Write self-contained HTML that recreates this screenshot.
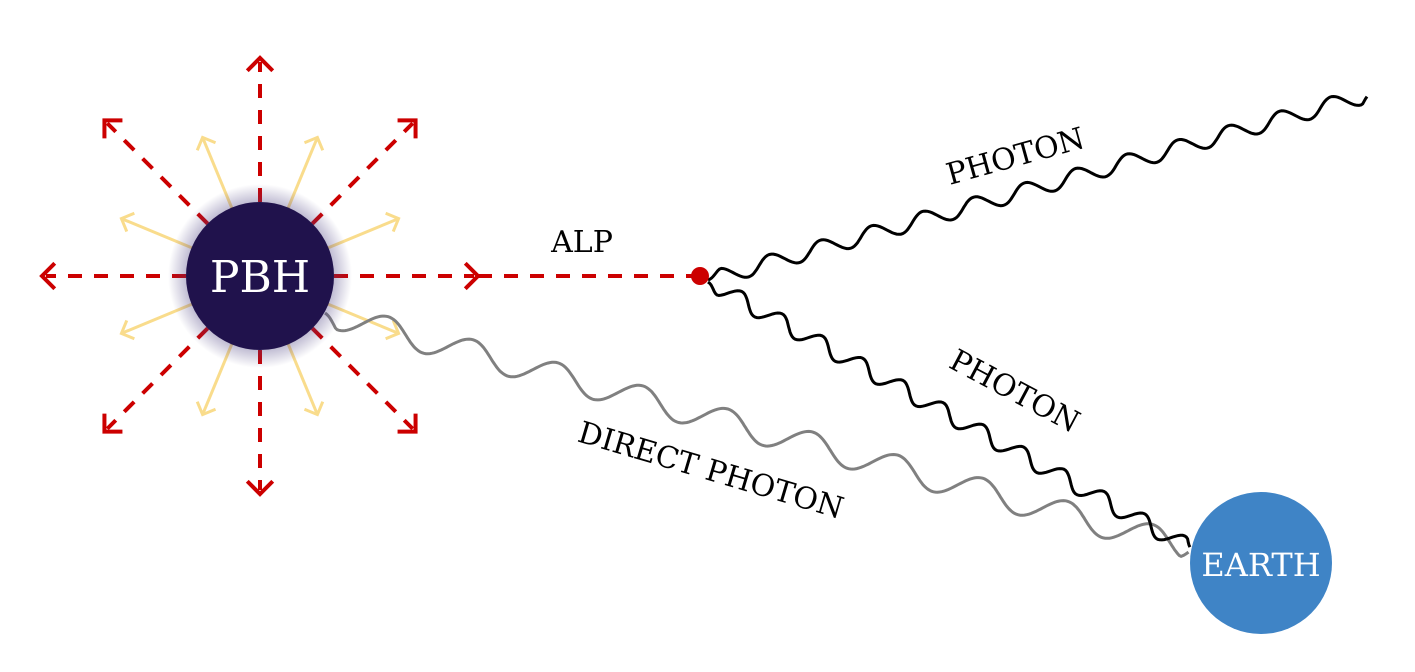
<!DOCTYPE html>
<html><head><meta charset="utf-8"><style>
html,body{margin:0;padding:0;background:#fff;}
svg{display:block;}
text{font-family:"DejaVu Serif","Liberation Serif",serif;}
</style></head><body>
<svg id="s" width="1415" height="672" viewBox="0 0 1415 672">
<defs>
<radialGradient id="glow" cx="50%" cy="50%" r="50%">
<stop offset="0.6" stop-color="#4a3f80" stop-opacity="0.7"/>
<stop offset="1" stop-color="#4a3f80" stop-opacity="0"/>
</radialGradient>
<filter id="yb" x="-50%" y="-50%" width="200%" height="200%"><feGaussianBlur stdDeviation="3"/></filter>
</defs>
<g id="yellow"></g>
<g id="red"></g>
<path id="direct" fill="none" stroke="#808080" stroke-width="3"/>
<circle cx="260" cy="276" r="92" fill="url(#glow)"/>
<circle cx="260" cy="276" r="74" fill="#20124c"/>
<text x="260" y="292" text-anchor="middle" font-size="44" fill="#fff">PBH</text>
<path id="ph1" fill="none" stroke="#000" stroke-width="3"/>
<path id="ph2" fill="none" stroke="#000" stroke-width="3"/>
<circle cx="700" cy="276" r="9" fill="#cc0000"/>
<text x="582" y="252" text-anchor="middle" font-size="30" fill="#000">ALP</text>
<text transform="translate(1018,166) rotate(-15.5)" text-anchor="middle" font-size="30">PHOTON</text>
<text transform="translate(1010,400) rotate(28)" text-anchor="middle" font-size="30">PHOTON</text>
<text transform="translate(708,480) rotate(16.5)" text-anchor="middle" font-size="30">DIRECT PHOTON</text>
<circle cx="1261" cy="563" r="71" fill="#3f84c6"/>
<text x="1261" y="576" text-anchor="middle" font-size="32" fill="#fff">EARTH</text>
</svg>
<script>
const NS="http://www.w3.org/2000/svg";
const cx=260,cy=276;
const red=document.getElementById('red'),yel=document.getElementById('yellow');
function line(g,x1,y1,x2,y2,st){const l=document.createElementNS(NS,'line');l.setAttribute('x1',x1);l.setAttribute('y1',y1);l.setAttribute('x2',x2);l.setAttribute('y2',y2);for(const k in st)l.setAttribute(k,st[k]);g.appendChild(l);return l;}
function head(g,tx,ty,a,len,st){const p=document.createElementNS(NS,'polyline');const b1=a+Math.PI*0.75,b2=a-Math.PI*0.75;p.setAttribute('points',`${tx+len*Math.cos(b1)},${ty+len*Math.sin(b1)} ${tx},${ty} ${tx+len*Math.cos(b2)},${ty+len*Math.sin(b2)}`);p.setAttribute('fill','none');for(const k in st)p.setAttribute(k,st[k]);g.appendChild(p);return p;}
for(let i=0;i<8;i++){
  const a=(i*45+22.5)*Math.PI/180;
  const st={stroke:'#f9dc8c','stroke-width':3};
  const l=line(yel,cx+70*Math.cos(a),cy+70*Math.sin(a),cx+150*Math.cos(a),cy+150*Math.sin(a),st);
  
  
  head(yel,cx+150*Math.cos(a),cy+150*Math.sin(a),a,14,st);
}
for(let i=0;i<8;i++){
  const a=i*45*Math.PI/180;
  const st={stroke:'#cc0000','stroke-width':4};
  const L=(i%2==0)?218:220;
  const l=line(red,cx,cy,cx+(L-4)*Math.cos(a),cy+(L-4)*Math.sin(a),Object.assign({'stroke-dasharray':'14 12','stroke-dashoffset':'-74'},st));
  
  
  head(red,cx+L*Math.cos(a),cy+L*Math.sin(a),a,16,Object.assign({'stroke-linecap':'square'},st));
}
const ext=line(red,478,276,700,276,{stroke:'#cc0000','stroke-width':4,'stroke-dasharray':'14 12'});


function wave(id,x1,y1,x2,y2,wl,amp,ph){
  const dx=x2-x1,dy=y2-y1,L=Math.hypot(dx,dy),ux=dx/L,uy=dy/L,nx=-uy,ny=ux;
  let d='';
  for(let s=0;s<=L;s+=2){const o=amp*Math.sin(2*Math.PI*s/wl+ph)*Math.min(1,s/15,(L-s)/10+0.3);
    d+=(s?'L':'M')+(x1+ux*s+nx*o).toFixed(1)+','+(y1+uy*s+ny*o).toFixed(1);}
  document.getElementById(id).setAttribute('d',d);
}
wave('ph1',708,280,1367,95,53,8,Math.PI);
wave('ph2',708,282,1190,548,46,8,0);
wave('direct',325,313,1190,548,88,13,Math.PI*0.1);
</script>
</body></html>
